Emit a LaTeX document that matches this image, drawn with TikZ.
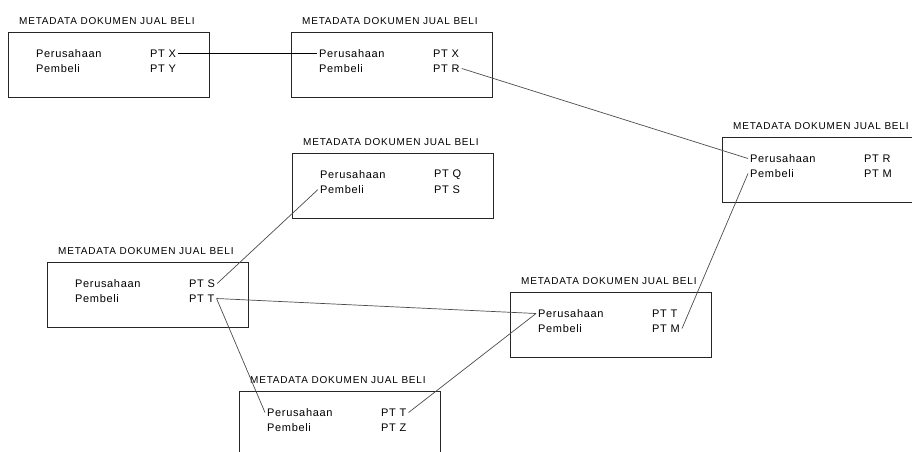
\documentclass[tikz,border=0pt]{standalone}
\usepackage{fontspec}
\setmainfont{Liberation Sans}
\newfontfamily\ttlfont[LetterSpace=8]{Liberation Sans}
\newfontfamily\bodyfont[LetterSpace=6]{Liberation Sans}
\tikzset{
  doc/.style={draw=black!85, line width=0.9pt, minimum width=201pt, minimum height=65pt, inner sep=0pt, anchor=north west},
  ttl/.style={anchor=west, inner sep=1pt, font=\ttlfont\fontsize{10}{12}\selectfont},
  txt/.style={anchor=west, inner sep=2pt, font=\bodyfont\fontsize{11}{13}\selectfont},
  link/.style={draw=black!70, line width=0.7pt},
  mainlink/.style={draw=black, line width=0.9pt}
}
\newcommand\metabox[5]{%
  \node[doc] (#1) at (#2,#3) {};
  \node[ttl] (#1-t) at (#2+10,#3-11) {METADATA DOKUMEN JUAL BELI};
  \node[txt] (#1-k1) at (#2+26,#3+21.5) {Perusahaan};
  \node[txt] (#1-k2) at (#2+26,#3+36.5) {Pembeli};
  \node[txt] (#1-v1) at (#2+140,#3+21.5) {#4};
  \node[txt] (#1-v2) at (#2+140,#3+36.5) {#5};
}
\begin{document}
\begin{tikzpicture}[x=1pt,y=-1pt]
\useasboundingbox (0,0) rectangle (912,451);
\clip (0,0) rectangle (912,451);
\fill[white] (0,0) rectangle (912,451);
\metabox{A}{8}{32}{PT X}{PT Y}
\metabox{B}{291}{32}{PT X}{PT R}
\metabox{C}{722}{137}{PT R}{PT M}
\metabox{D}{292}{153}{PT Q}{PT S}
\metabox{E}{47}{262}{PT S}{PT T}
\metabox{F}{510}{292}{PT T}{PT M}
\metabox{G}{239}{391}{PT T}{PT Z}
\draw[mainlink] (A-v1.east) -- (B-k1.west);
\draw[link] (B-v2.east) -- (C-k1.west);
\draw[link] (D-k2.west) -- (E-v1.east);
\draw[link] (E-v2.east) -- (F-k1.west);
\draw[link] (E-v2.east) -- (G-k1.west);
\draw[link] (F-k1.west) -- (G-v1.east);
\draw[link] (F-v2.east) -- (C-k2.west);
\end{tikzpicture}
\end{document}
